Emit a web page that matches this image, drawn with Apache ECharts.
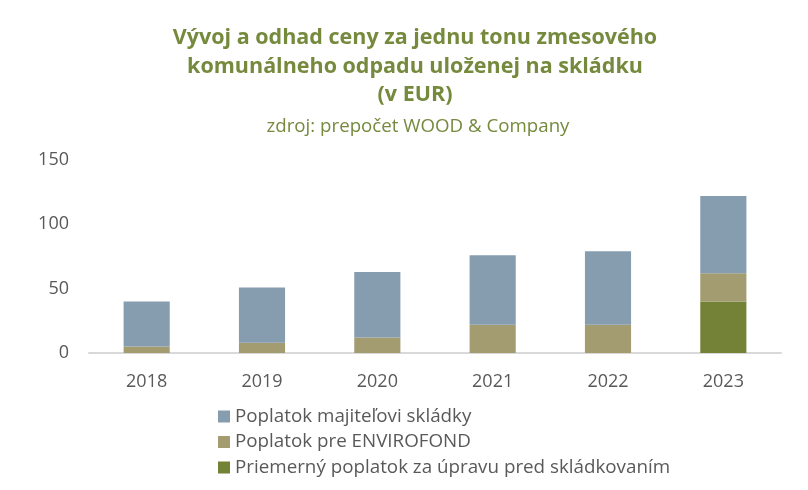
<!DOCTYPE html>
<html>
<head>
<meta charset="utf-8">
<script src="https://cdn.jsdelivr.net/npm/echarts@6/dist/echarts.min.js"></script>
<style>
  html, body { margin: 0; padding: 0; background: #fff; }
  #chart1 { width: 808px; height: 490px; }
</style>
</head>
<body>
<div id="chart1"></div>
<script>
// roky na osi x
var years = ["2018", "2019", "2020", "2021", "2022", "2023"];

// hodnoty v EUR za tonu, odčítané z grafu
var upravaValues = [0, 0, 0, 0, 0, 40];          // priemerny poplatok za upravu
var envirofondValues = [5, 8, 12, 22, 22, 22];   // poplatok pre ENVIROFOND
var majitelValues = [35, 43, 51, 54, 57, 60];    // poplatok majitelovi skladky

var seriesNames = [
	"Poplatok majiteľovi skládky",
	"Poplatok pre ENVIROFOND",
	"Priemerný poplatok za úpravu pred skládkovaním"
];

var titleColor = "#758a3d";
var labelColor = "#595959";
var fontName = "'Open Sans', 'Noto Sans', sans-serif";

var chart = echarts.init(document.getElementById("chart1"));

var option = {
	animation: false,
	title: [{
		text: "Vývoj a odhad ceny za jednu tonu zmesového\nkomunálneho odpadu uloženej na skládku\n(v EUR)",
		left: 410,
		textAlign: "center",
		top: 19,
		textStyle: {
			fontFamily: fontName,
			fontSize: 21.5,
			fontWeight: "bold",
			color: titleColor,
			lineHeight: 28.5
		}
	}, {
		text: "zdroj: prepočet WOOD & Company",
		left: 413,
		textAlign: "center",
		top: 112,
		textStyle: {
			fontFamily: fontName,
			fontSize: 18.7,
			fontWeight: "normal",
			color: titleColor,
			lineHeight: 20
		}
	}],
	legend: {
		orient: "vertical",
		left: 213,
		top: 402,
		itemWidth: 12,
		itemHeight: 12,
		itemGap: 6.5,
		icon: "rect",
		data: seriesNames,
		textStyle: {
			fontFamily: fontName,
			fontSize: 18.8,
			color: labelColor,
			lineHeight: 18
		}
	},
	grid: {
		left: 89,
		right: 27,
		top: 160,
		bottom: 137
	},
	xAxis: {
		type: "category",
		data: years,
		axisLine: { lineStyle: { color: "#d9d9d9", width: 2 } },
		axisTick: { show: false },
		axisLabel: {
			fontFamily: fontName,
			fontSize: 18,
			color: labelColor,
			margin: 20
		}
	},
	yAxis: {
		type: "value",
		min: 0,
		max: 150,
		interval: 50,
		axisLine: { show: false },
		axisTick: { show: false },
		splitLine: { show: false },
		axisLabel: {
			fontFamily: fontName,
			fontSize: 18,
			color: labelColor,
			margin: 20
		}
	},
	series: [{
		//spodna vrstva
		type: "bar",
		name: seriesNames[2],
		stack: "spolu",
		barWidth: "40%",
		data: upravaValues,
		itemStyle: { color: "#738237" }
	}, {
		type: "bar",
		name: seriesNames[1],
		stack: "spolu",
		data: envirofondValues,
		itemStyle: { color: "#a39c70" }
	}, {
		type: "bar",
		name: seriesNames[0],
		stack: "spolu",
		data: majitelValues,
		itemStyle: { color: "#869caf" }
	}]
};

chart.setOption(option);
</script>
</body>
</html>
